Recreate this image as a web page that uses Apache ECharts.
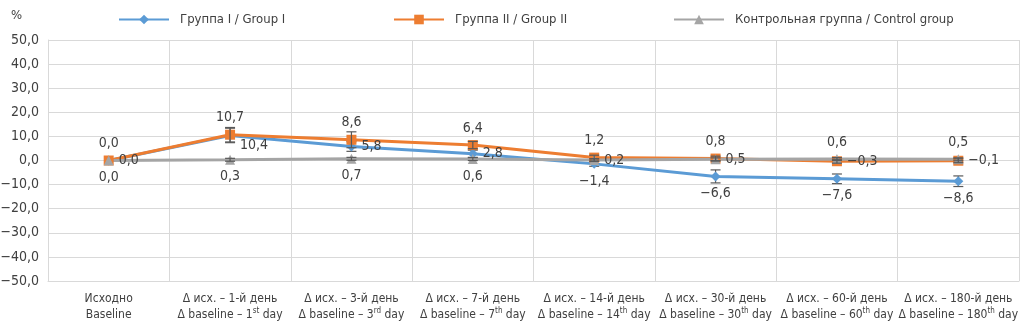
<!DOCTYPE html>
<html>
<head>
<meta charset="utf-8">
<script src="https://cdn.jsdelivr.net/npm/echarts@6/dist/echarts.min.js"></script>
<style>html,body{margin:0;padding:0;background:#fff}#c{width:1024px;height:326px}</style>
</head>
<body>
<div id="c"></div>
<script>
var categoriesRu = ['Исходно', 'Δ исх. – 1-й день', 'Δ исх. – 3-й день', 'Δ исх. – 7-й день', 'Δ исх. – 14-й день', 'Δ исх. – 30-й день', 'Δ исх. – 60-й день', 'Δ исх. – 180-й день'];
var categoriesEnBase = ['Baseline', 'Δ baseline – 1', 'Δ baseline – 3', 'Δ baseline – 7', 'Δ baseline – 14', 'Δ baseline – 30', 'Δ baseline – 60', 'Δ baseline – 180'];
var categoriesEnSup = ['', 'st', 'rd', 'th', 'th', 'th', 'th', 'th'];
var seriesNames = ['Группа I / Group I', 'Группа II / Group II', 'Контрольная группа / Control group'];
var group1 = [0.0, 10.4, 5.8, 2.8, -1.4, -6.6, -7.6, -8.6];
var group2 = [0.0, 10.7, 8.6, 6.4, 1.2, 0.8, -0.3, -0.1];
var control = [0.0, 0.3, 0.7, 0.6, 0.2, 0.5, 0.6, 0.5];
var group1Err = [0, 3.0, 2.0, 1.5, 1.0, 2.7, 2.0, 2.2];
var group2Err = [0, 3.0, 3.3, 1.5, 1.0, 1.0, 0.8, 0.8];
var controlErr = [0, 0.6, 0.6, 0.6, 0.6, 0.6, 0.6, 0.6];
var group1LabelPos = ['right', 'right', 'right', 'right', 'bottom', 'bottom', 'bottom', 'bottom'];
var group2LabelPos = ['top', 'top', 'top', 'top', 'top', 'top', 'right', 'right'];
var controlLabelPos = ['bottom', 'bottom', 'bottom', 'bottom', 'right', 'right', 'top', 'top'];
var yTicks = {min: -50, max: 50, interval: 10};

var FONT = '"DejaVu Sans Condensed", "Liberation Sans Narrow", "Roboto", sans-serif';
var colors = ['#5B9BD5', '#ED7D31', '#A5A5A5'];

function fmt(v) {
  var s = Math.abs(v).toFixed(1).replace('.', ',');
  return (v < 0 ? '\u2212' : '') + s;
}

var catLabels = categoriesRu.map(function (r, i) {
  var second = categoriesEnSup[i]
    ? '{b|' + categoriesEnBase[i] + '}{sup|' + categoriesEnSup[i] + '}{b| day}'
    : '{b|' + categoriesEnBase[i] + '}';
  return '{a|' + r + '}\n' + second;
});

function lineSeries(name, data, pos, color, symbol, size, offsets) {
  return {
    name: name, type: 'line', data: data.map(function (v, i) {
      var lab = {position: pos[i]};
      if (offsets && offsets[i]) lab.offset = offsets[i];
      return {value: v, label: lab};
    }),
    symbol: symbol, symbolSize: size,
    lineStyle: {width: 3, color: color},
    itemStyle: {color: color},
    label: {show: true, formatter: function (p) { return fmt(p.value); }, fontFamily: FONT, fontSize: 14, color: '#404040', distance: 5},
    emphasis: {disabled: true}
  };
}

function errSeries(data, err, z) {
  return {
    type: 'custom', silent: true, z: z,
    data: data.map(function (v, i) { return [i, v, err[i]]; }),
    renderItem: function (params, api) {
      var i = api.value(0), v = api.value(1), e = api.value(2);
      if (!e) return null;
      var top = api.coord([i, v + e]);
      var bot = api.coord([i, v - e]);
      var hw = 5;
      var st = {stroke: '#595959', lineWidth: 1.2};
      return {type: 'group', children: [
        {type: 'line', shape: {x1: top[0], y1: top[1], x2: bot[0], y2: bot[1]}, style: st},
        {type: 'line', shape: {x1: top[0] - hw, y1: top[1], x2: top[0] + hw, y2: top[1]}, style: st},
        {type: 'line', shape: {x1: bot[0] - hw, y1: bot[1], x2: bot[0] + hw, y2: bot[1]}, style: st}
      ]};
    }
  };
}

function legendAt(name, left) {
  return {
    data: [name], left: left, top: 8, itemWidth: 50, itemHeight: 12, itemGap: 10,
    textStyle: {fontFamily: FONT, fontSize: 13, color: '#404040', padding: [0, 0, 0, 6]}, selectedMode: false
  };
}

var chart = echarts.init(document.getElementById('c'), null, {renderer: 'canvas'});
chart.setOption({
  animation: false,
  color: colors,
  textStyle: {fontFamily: FONT},
  legend: [legendAt(seriesNames[0], 113), legendAt(seriesNames[1], 388), legendAt(seriesNames[2], 668)],
  graphic: [{type: 'text', left: 11, top: 9, style: {text: '%', font: '13px ' + FONT, fill: '#404040'}}],
  grid: {left: 48, right: 5, top: 40, bottom: 45, containLabel: false, outerBoundsMode: 'none'},
  xAxis: {
    type: 'category', data: catLabels, boundaryGap: true, position: 'bottom',
    axisLine: {onZero: false, lineStyle: {color: '#d9d9d9'}},
    axisTick: {show: false},
    splitLine: {show: true, interval: 0, lineStyle: {color: '#d9d9d9'}},
    axisLabel: {
      interval: 0, margin: 10, color: '#404040',
      rich: {
        a: {fontFamily: FONT, fontSize: 12, color: '#404040', lineHeight: 16},
        b: {fontFamily: FONT, fontSize: 12, color: '#404040', lineHeight: 16},
        sup: {fontFamily: FONT, fontSize: 8, color: '#404040', verticalAlign: 'top', lineHeight: 16, padding: [0, 0, 5, 0]}
      }
    }
  },
  yAxis: {
    type: 'value', min: yTicks.min, max: yTicks.max, interval: yTicks.interval,
    axisLine: {show: true, lineStyle: {color: '#d9d9d9'}},
    axisTick: {show: false},
    splitLine: {lineStyle: {color: '#d9d9d9'}},
    axisLabel: {formatter: fmt, fontFamily: FONT, fontSize: 14, color: '#404040', margin: 9}
  },
  series: [
    lineSeries(seriesNames[0], group1, group1LabelPos, colors[0], 'diamond', 10, [null, [0, 10]]),
    errSeries(group1, group1Err, 3),
    lineSeries(seriesNames[1], group2, group2LabelPos, colors[1], 'rect', 10),
    errSeries(group2, group2Err, 4),
    lineSeries(seriesNames[2], control, controlLabelPos, colors[2], 'triangle', 10),
    errSeries(control, controlErr, 5)
  ]
});
</script>
</body>
</html>
